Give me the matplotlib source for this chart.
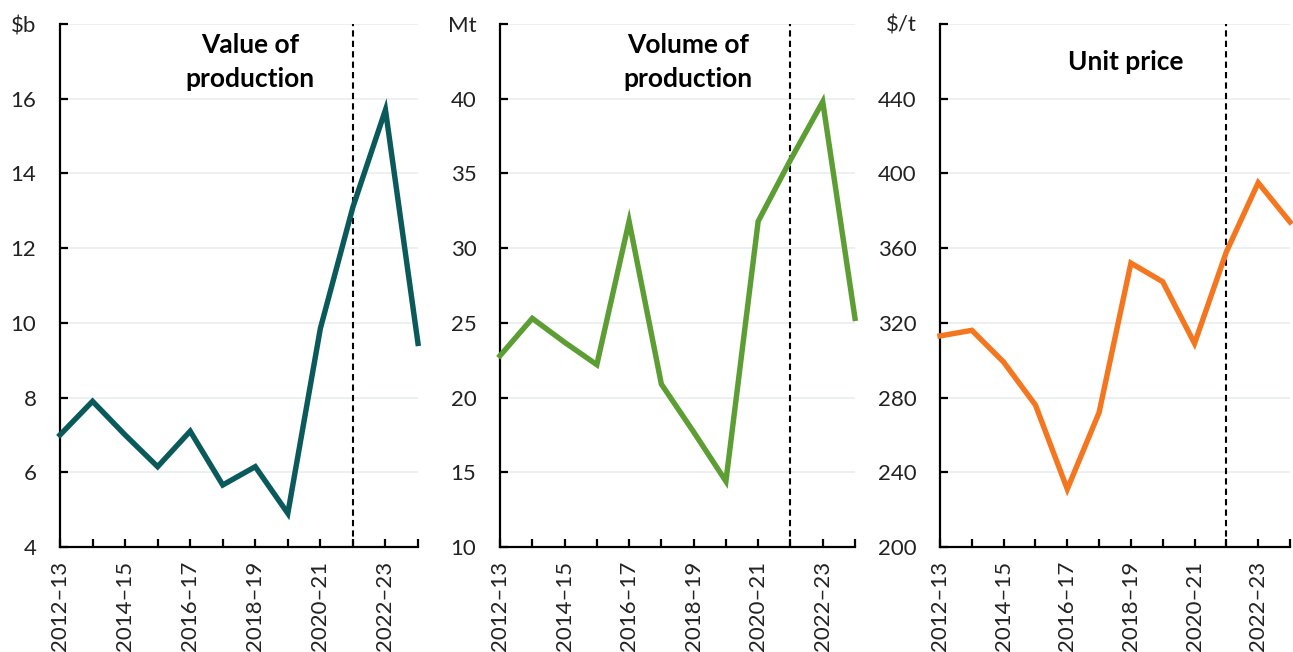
import matplotlib

matplotlib.use("Agg")
import matplotlib.pyplot as plt

plt.rcParams["font.family"] = ["Lato", "DejaVu Sans"]

years = ["2012–13", "2013–14", "2014–15", "2015–16", "2016–17", "2017–18",
         "2018–19", "2019–20", "2020–21", "2021–22", "2022–23", "2023–24"]
value_bn = [7.0, 7.9, 7.0, 6.15, 7.1, 5.66, 6.15, 4.9, 9.85, 13.1, 15.7, 9.45]
volume_mt = [22.8, 25.3, 23.7, 22.2, 31.8, 20.9, 17.7, 14.4, 31.8, 35.9, 39.8, 25.3]
unit_price = [313, 316, 299, 276, 231, 272, 352, 342, 309, 358, 395, 374]

titles = ["Value of\nproduction", "Volume of\nproduction", "Unit price"]
units = ["$b", "Mt", "$/t"]
y_ticks = [list(range(4, 19, 2)), list(range(10, 46, 5)), list(range(200, 481, 40))]
colors = ["#0a5a5c", "#5c9e33", "#f4761f"]
forecast_start = 9  # 2021-22

W, H = 1293, 652
fig = plt.figure(figsize=(W / 100, H / 100), dpi=100)
boxes = [(60, 418), (500, 855), (940, 1290)]
top_px, bottom_px = 24, 547

for i, (series, (x0, x1)) in enumerate(zip([value_bn, volume_mt, unit_price], boxes)):
    ax = fig.add_axes([x0 / W, 1 - bottom_px / H, (x1 - x0) / W, (bottom_px - top_px) / H])
    xs = list(range(len(years)))
    ax.plot(xs, series, color=colors[i], lw=3.9, solid_joinstyle="miter", clip_on=False, zorder=3)
    ax.axvline(forecast_start, color="black", lw=1.5, ls=(0, (3, 2)), zorder=2)

    ticks = y_ticks[i]
    ax.set_ylim(ticks[0], ticks[-1])
    ax.set_yticks(ticks)
    ax.set_yticklabels([str(t) for t in ticks[:-1]] + [units[i]])
    ax.set_xlim(0, len(years) - 1)
    ax.set_xticks(xs)
    ax.set_xticklabels([y if k % 2 == 0 else "" for k, y in enumerate(years)], rotation=90)

    ax.grid(axis="y", color="#e9eeee", lw=1.2, zorder=0)
    ax.set_axisbelow(True)
    for side in ["top", "right"]:
        ax.spines[side].set_visible(False)
    for side in ["left", "bottom"]:
        ax.spines[side].set_linewidth(1.6)
    ax.tick_params(axis="y", direction="in", length=6, width=1.6, pad=17, labelsize=16, colors="#222222")
    ax.tick_params(axis="x", direction="in", length=6, width=1.6, pad=10, labelsize=16, colors="#222222")
    ax.tick_params(axis="both", color="black")

    ax.text(0.53, 0.928, titles[i], transform=ax.transAxes, ha="center", va="center",
            fontsize=19, fontweight="bold", linespacing=1.5)

fig.savefig("out.png", dpi=100)
